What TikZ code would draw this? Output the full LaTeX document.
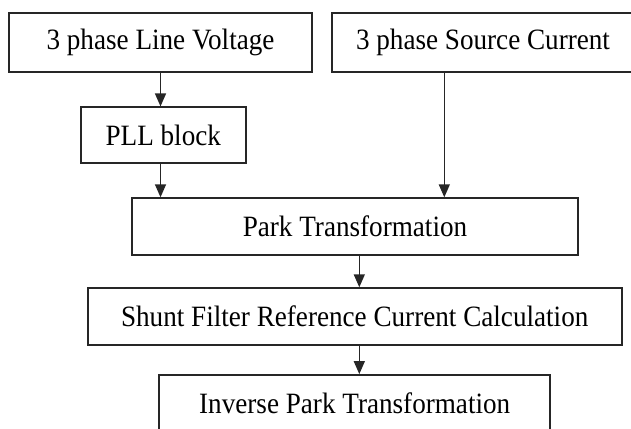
\documentclass[tikz,border=0pt]{standalone}
\usepackage{fontspec}
\setmainfont[FakeStretch=0.92]{Liberation Serif}
\usepackage{tikz}
\usetikzlibrary{
  arrows.meta,
  positioning,
  calc}
\tikzset{every picture/.style={font issue=\fontsize{29.5}{34}},
         font issue/.style={execute at begin picture={#1\selectfont}}
        }
\begin{document}
\begin{tikzpicture}[x=1pt, y=-1pt, line width=1.8pt,
  block/.style={draw=black!85, inner sep=0pt, minimum height=57pt},
  flow/.style={draw=black!85, line width=1.5pt, -{Triangle[length=13pt, width=11pt]}}]
\clip (0,0) rectangle (631,428);
\node[block, minimum width=303pt, minimum height=58.4pt] (volt) at (160.5,42.5) {3 phase Line Voltage};
\node[block, minimum width=302.6pt, minimum height=58.4pt] (src) at (483,42.5) {3 phase Source Current};
\node[block, minimum width=164.7pt, minimum height=55.4pt] (pll) at (163.3,135) {PLL block};
\node[block, minimum width=445.4pt] (park) at (355,226.7) {Park Transformation};
\node[block, minimum width=534pt] (shunt) at (354.7,316.7) {Shunt Filter Reference Current Calculation};
\node[block, minimum width=390.7pt] (inv) at (354.7,403.5) {Inverse Park Transformation};
\draw[flow] (volt.south) -- (volt.south |- pll.north);
\draw[flow] (volt.south |- pll.south) -- (volt.south |- park.north);
\draw[flow] ([xshift=-38.7pt]src.south) -- ([xshift=-38.7pt]src.south |- park.north);
\draw[flow] ([xshift=4.3pt]park.south) -- ([xshift=4.3pt]park.south |- shunt.north);
\draw[flow] ([xshift=4.6pt]shunt.south) -- ([xshift=4.6pt]shunt.south |- inv.north);
\end{tikzpicture}
\end{document}
